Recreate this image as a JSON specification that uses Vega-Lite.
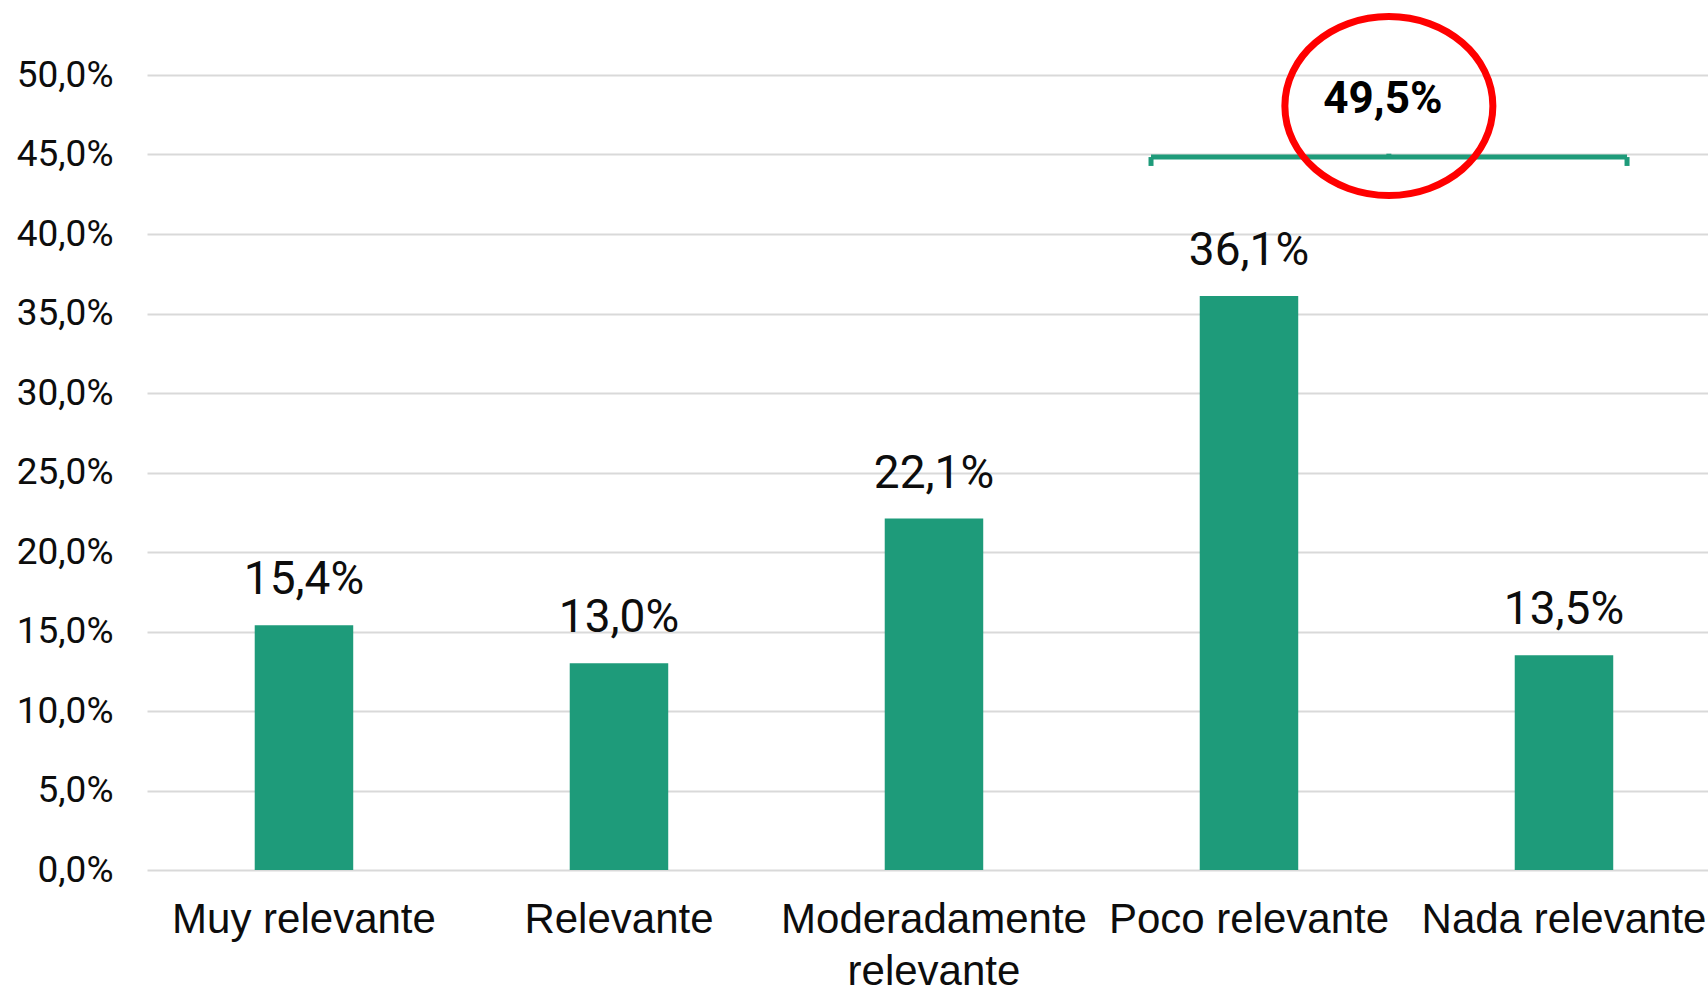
{
  "$schema": "https://vega.github.io/schema/vega-lite/v6.json",
  "width": 1561,
  "height": 795,
  "autosize": {"type": "none"},
  "padding": {"left": 147, "top": 75, "right": 0, "bottom": 122},
  "background": "#ffffff",
  "config": {
    "view": {"stroke": null},
    "locale": {"number": {"decimal": ",", "thousands": ".", "grouping": [3], "currency": ["", " €"]}}
  },
  "datasets": {
    "bars": [
      {"category": "Muy relevante", "share": 0.154},
      {"category": "Relevante", "share": 0.130},
      {"category": "Moderadamente relevante", "share": 0.221},
      {"category": "Poco relevante", "share": 0.361},
      {"category": "Nada relevante", "share": 0.135}
    ],
    "bracket": [
      {"x": 2.689, "x2": 4.2, "y": 0.4484, "y2": 0.4484},
      {"x": 2.689, "x2": 2.689, "y": 0.4484, "y2": 0.4428},
      {"x": 4.2, "x2": 4.2, "y": 0.4484, "y2": 0.4428},
      {"x": 3.444, "x2": 3.444, "y": 0.4484, "y2": 0.4505}
    ],
    "note": [
      {"cx": 3.444, "cy": 0.4805, "lx": 3.425, "ly": 0.476, "total": 0.495}
    ]
  },
  "layer": [
    {
      "data": {"name": "bars"},
      "encoding": {
        "x": {
          "field": "category",
          "type": "nominal",
          "sort": null,
          "scale": {"paddingInner": 0.6873, "paddingOuter": 0.3214, "align": 0.532},
          "axis": {
            "title": null,
            "domain": false,
            "ticks": false,
            "labelAngle": 0,
            "labelFont": "Liberation Sans",
            "labelFontSize": 42,
            "labelColor": "#0d0d0d",
            "labelBaseline": "alphabetic",
            "labelPadding": 62,
            "labelLineHeight": 52,
            "labelLimit": 0,
            "labelOverlap": false,
            "labelBound": false,
            "labelExpr": "datum.label == 'Moderadamente relevante' ? ['Moderadamente', 'relevante'] : datum.label"
          }
        },
        "y": {
          "field": "share",
          "type": "quantitative",
          "scale": {"domain": [0, 0.5], "nice": false},
          "axis": {
            "title": null,
            "domain": false,
            "ticks": false,
            "grid": true,
            "gridColor": "#d9d9d9",
            "gridWidth": 2,
            "values": [0, 0.05, 0.1, 0.15, 0.2, 0.25, 0.3, 0.35, 0.4, 0.45, 0.5],
            "format": ".1%",
            "labelFont": "Roboto",
            "labelFontSize": 37,
            "labelColor": "#0d0d0d",
            "labelPadding": 34
          }
        }
      },
      "layer": [
        {"mark": {"type": "bar", "color": "#1E9B7A"}},
        {
          "mark": {"type": "text", "font": "Roboto", "fontSize": 46, "baseline": "alphabetic", "dy": -31, "color": "#0d0d0d"},
          "encoding": {"text": {"field": "share", "type": "quantitative", "format": ".1%"}}
        }
      ]
    },
    {
      "layer": [
        {
          "data": {"name": "bracket"},
          "mark": {"type": "rule", "color": "#1E9B7A", "strokeWidth": 5},
          "encoding": {
            "x": {"field": "x", "type": "quantitative", "scale": {"domain": [-0.498, 4.457], "nice": false, "zero": false}, "axis": null},
            "x2": {"field": "x2"},
            "y": {"field": "y", "type": "quantitative", "scale": {"domain": [0, 0.5], "nice": false}, "axis": null},
            "y2": {"field": "y2"}
          }
        },
        {
          "data": {"name": "note"},
          "mark": {"type": "text", "font": "Roboto", "fontWeight": "bold", "fontSize": 44, "baseline": "alphabetic", "align": "center", "color": "#000000"},
          "encoding": {
            "x": {"field": "lx", "type": "quantitative", "scale": {"domain": [-0.498, 4.457], "nice": false, "zero": false}, "axis": null},
            "y": {"field": "ly", "type": "quantitative", "scale": {"domain": [0, 0.5], "nice": false}, "axis": null},
            "text": {"field": "total", "type": "quantitative", "format": ".1%"}
          }
        },
        {
          "data": {"name": "note"},
          "mark": {"type": "point", "shape": "M -1 0 A 1 0.86 0 1 1 1 0 A 1 0.86 0 1 1 -1 0 Z", "size": 43264, "filled": false, "stroke": "#FF0000", "strokeWidth": 7, "opacity": 1},
          "encoding": {
            "x": {"field": "cx", "type": "quantitative", "scale": {"domain": [-0.498, 4.457], "nice": false, "zero": false}, "axis": null},
            "y": {"field": "cy", "type": "quantitative", "scale": {"domain": [0, 0.5], "nice": false}, "axis": null}
          }
        }
      ]
    }
  ],
  "resolve": {"scale": {"x": "independent"}, "axis": {"x": "independent", "y": "independent"}}
}
